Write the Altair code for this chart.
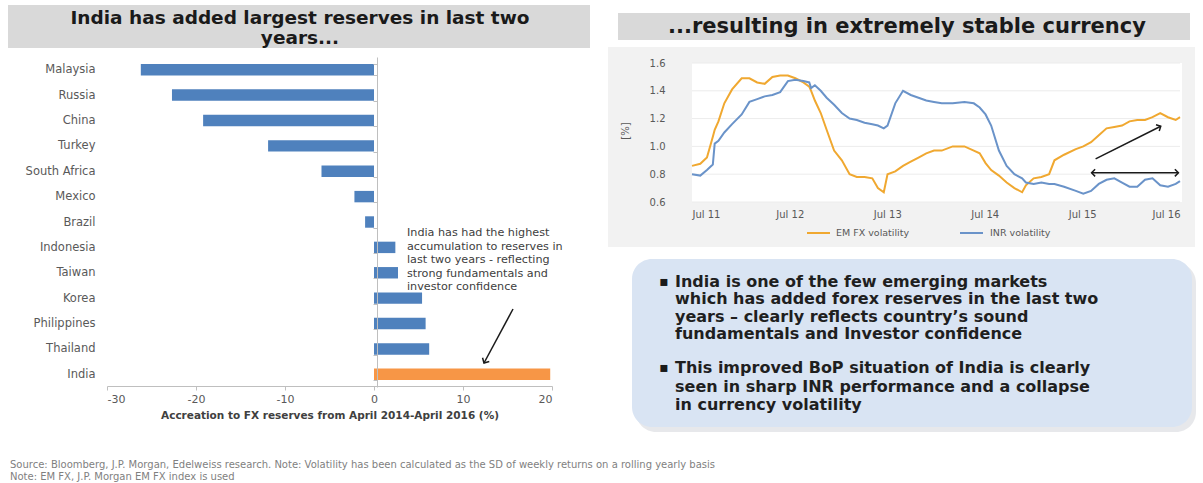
import altair as alt
import pandas as pd

# ---------------- data ----------------
countries = ["Malaysia", "Russia", "China", "Turkey", "South Africa", "Mexico", "Brazil",
             "Indonesia", "Taiwan", "Korea", "Philippines", "Thailand", "India"]
accretion = [-26.2, -22.7, -19.2, -11.9, -5.9, -2.2, -1.0, 2.4, 2.7, 5.4, 5.8, 6.2, 19.8]
bar_group = ["Other"] * 12 + ["India"]
bar_ticks = [-30, -20, -10, 0, 10, 20]

vol_dates = [
    "2011-07-01", "2011-08-01", "2011-08-26", "2011-09-17", "2011-09-24", "2011-10-08",
    "2011-10-30", "2011-11-28", "2012-01-03", "2012-02-01", "2012-03-01", "2012-03-29",
    "2012-04-27", "2012-05-26", "2012-06-24", "2012-07-22", "2012-08-21", "2012-09-12",
    "2012-09-19", "2012-10-03", "2012-10-25", "2012-11-16", "2012-12-14", "2013-01-12",
    "2013-02-10", "2013-03-09", "2013-04-07", "2013-05-06", "2013-05-27", "2013-06-18",
    "2013-07-02", "2013-07-31", "2013-08-29", "2013-09-27", "2013-10-26", "2013-11-24",
    "2013-12-23", "2014-01-21", "2014-03-03", "2014-04-16", "2014-05-21", "2014-06-12",
    "2014-07-04", "2014-07-25", "2014-08-23", "2014-09-21", "2014-10-20", "2014-11-18",
    "2014-12-02", "2014-12-31", "2015-01-29", "2015-02-27", "2015-03-19", "2015-04-24",
    "2015-06-07", "2015-07-05", "2015-08-03", "2015-09-01", "2015-09-30", "2015-10-29",
    "2015-11-27", "2015-12-25", "2016-01-23", "2016-02-21", "2016-03-20", "2016-04-18",
    "2016-05-17", "2016-06-15", "2016-07-01",
]
em_fx_vol = [
    0.86, 0.875, 0.92, 1.07, 1.12, 1.18,
    1.31, 1.41, 1.49, 1.49, 1.46, 1.45,
    1.50, 1.51, 1.51, 1.49, 1.46, 1.43,
    1.40, 1.33, 1.24, 1.12, 0.97, 0.90,
    0.80, 0.78, 0.78, 0.77, 0.70, 0.67,
    0.80, 0.82, 0.86, 0.89, 0.92, 0.95,
    0.97, 0.97, 1.00, 1.00, 0.97, 0.95,
    0.88, 0.83, 0.79, 0.74, 0.70, 0.67,
    0.72, 0.77, 0.78, 0.80, 0.90, 0.94,
    0.98, 1.00, 1.03, 1.08, 1.13, 1.14,
    1.15, 1.18, 1.19, 1.19, 1.21, 1.24,
    1.21, 1.19, 1.21,
]
inr_vol = [
    0.80, 0.79, 0.83, 0.87, 1.02, 1.04,
    1.10, 1.16, 1.23, 1.32, 1.34, 1.36,
    1.37, 1.39, 1.47, 1.48, 1.47, 1.46,
    1.42, 1.44, 1.40, 1.35, 1.30, 1.24,
    1.20, 1.19, 1.17, 1.16, 1.15, 1.13,
    1.15, 1.31, 1.40, 1.37, 1.35, 1.33,
    1.32, 1.31, 1.31, 1.32, 1.31, 1.28,
    1.23, 1.15, 0.97, 0.86, 0.80, 0.77,
    0.74, 0.73, 0.74, 0.73, 0.73, 0.71,
    0.68, 0.66, 0.68, 0.73, 0.76, 0.77,
    0.74, 0.71, 0.71, 0.76, 0.77, 0.72,
    0.71, 0.73, 0.75,
]
series_names = ["EM FX volatility", "INR volatility"]
series_colors = ["#F0A830", "#6A93C9"]
vol_ticks = [0.6, 0.8, 1.0, 1.2, 1.4, 1.6]
tick_years = [2011, 2012, 2013, 2014, 2015, 2016]

# arrows on the volatility chart (data coordinates)
diag_from = ("2015-08-20", 0.91)
diag_to = ("2016-04-20", 1.145)
flat_from = ("2015-08-05", 0.81)
flat_to = ("2016-06-25", 0.81)

left_title = ["India has added largest reserves in last two", "years..."]
right_title = "...resulting in extremely stable currency"
bar_note = ["India has had the highest", "accumulation to reserves in",
            "last two years - reflecting", "strong fundamentals and", "investor confidence"]
box_lines_1 = ["India is one of the few emerging markets",
               "which has added forex reserves in the last two",
               "years \u2013 clearly reflects country\u2019s sound",
               "fundamentals and Investor confidence"]
box_lines_2 = ["This improved BoP situation of India is clearly",
               "seen in sharp INR performance and a collapse",
               "in currency volatility"]
footnote = ["Source: Bloomberg, J.P. Morgan, Edelweiss research. Note: Volatility has been calculated as the SD of weekly returns on a rolling yearly basis",
            "Note: EM FX, J.P. Morgan EM FX index is used"]

# ---------------- helpers ----------------
one = pd.DataFrame({"k": [0]})
GRAY = "#595959"
LBL = "DejaVu Sans"


def rect(x1, x2, y1, y2, **kw):
    return alt.Chart(one).mark_rect(**kw).encode(
        x=alt.value(x1), x2=alt.value(x2), y=alt.value(y1), y2=alt.value(y2))


def label(txt, x, y, **kw):
    return alt.Chart(one).mark_text(text=txt, **kw).encode(x=alt.value(x), y=alt.value(y))


def seg(x1, y1, x2, y2, **kw):
    return alt.Chart(one).mark_rule(**kw).encode(
        x=alt.value(x1), y=alt.value(y1), x2=alt.value(x2), y2=alt.value(y2))


ARROW = "M -1 -1 L 0 0 L -1 1"
HYPHEN_LABEL = "datum.value < 0 ? '-' + abs(datum.value) : '' + datum.value"

layers = []

# ---------------- left panel ----------------
layers.append(rect(8, 590, 5, 48, color="#d9d9d9"))
layers.append(label(left_title, 300, 18, font="DejaVu Sans", fontWeight="bold", fontSize=18.5,
                    lineHeight=20, color="#1a1a1a", baseline="middle"))

bar_df = pd.DataFrame({"country": countries, "value": accretion, "group": bar_group})
x_bar = alt.Scale(domain=[-30, 20], range=[107, 552], nice=False, zero=False)
y_bar = alt.Scale(domain=countries, range=[57, 387], paddingInner=0.55, paddingOuter=0.275)

bars = alt.Chart(bar_df).mark_bar().encode(
    x=alt.X("value:Q", scale=x_bar,
            axis=alt.Axis(orient="bottom", offset=-97, values=bar_ticks, grid=False,
                          labelExpr=HYPHEN_LABEL,
                          domainColor="#bfbfbf", tickColor="#bfbfbf", tickSize=4,
                          labelFont=LBL, labelFontSize=11, labelColor=GRAY, labelPadding=3,
                          title="Accreation to FX reserves from April 2014-April 2016 (%)",
                          titleFont=LBL, titleFontSize=10.5, titleFontWeight="bold",
                          titleColor="#404040", titlePadding=6)),
    y=alt.Y("country:N", scale=y_bar, sort=countries,
            axis=alt.Axis(orient="left", offset=-377, title=None, grid=False,
                          domainColor="#bfbfbf", tickColor="#bfbfbf", tickSize=4,
                          tickBand="extent", labelPadding=278, labelFont=LBL,
                          labelFontSize=11.5, labelColor=GRAY, zindex=1)),
    color=alt.Color("group:N", scale=alt.Scale(domain=["Other", "India"],
                                               range=["#4F81BD", "#F79646"]), legend=None),
)
layers.append(bars)

layers.append(label(bar_note, 407, 233, font=LBL, fontSize=11.2, lineHeight=13.5,
                    color="#404040", align="left", baseline="middle"))
layers.append(seg(513, 309, 484, 363, color="#1a1a1a", strokeWidth=1.5))
layers.append(alt.Chart(one).mark_point(shape=ARROW, filled=False, color="#1a1a1a",
                                        strokeWidth=1.5, size=60, angle=119.6, opacity=1)
              .encode(x=alt.value(484), y=alt.value(363)))

# ---------------- right panel ----------------
layers.append(rect(618, 1190, 13, 40, color="#d9d9d9"))
layers.append(label(right_title, 907, 27, font="DejaVu Sans", fontWeight="bold", fontSize=21,
                    color="#1a1a1a", baseline="middle"))
layers.append(rect(608, 1195, 47, 247, color="#f2f2f2"))
layers.append(rect(692, 1182, 63, 202, color="#ffffff"))

x_line = alt.Scale(domain=[alt.DateTime(year=2011, month=7, date=1),
                           alt.DateTime(year=2016, month=7, date=1)], range=[692, 1180])
y_line = alt.Scale(domain=[0.6, 1.6], range=[202, 63], nice=False, zero=False)

grid_df = pd.DataFrame({"v": vol_ticks})
layers.append(alt.Chart(grid_df).mark_rule(color="#ececec", strokeWidth=1).encode(
    y=alt.Y("v:Q", scale=y_line, axis=None), x=alt.value(692), x2=alt.value(1180)))

n = len(vol_dates)
vol_df = pd.DataFrame({
    "date": pd.to_datetime(vol_dates * 2),
    "value": em_fx_vol + inr_vol,
    "series": [series_names[0]] * n + [series_names[1]] * n,
})
lines = alt.Chart(vol_df).mark_line(strokeWidth=2, interpolate="linear").encode(
    x=alt.X("date:T", scale=x_line,
            axis=alt.Axis(orient="bottom", offset=-281,
                          values=[alt.DateTime(year=y, month=7, date=1) for y in tick_years],
                          format="%b %y", domain=False, ticks=False, grid=False, title=None,
                          labelFont=LBL, labelFontSize=10, labelColor=GRAY, labelPadding=7,
                          zindex=1)),
    y=alt.Y("value:Q", scale=y_line,
            axis=alt.Axis(orient="left", offset=-692, values=vol_ticks, format=".1f",
                          domain=False, ticks=False, grid=False, title=None,
                          labelFont=LBL, labelFontSize=10, labelColor=GRAY, labelPadding=27,
                          zindex=1)),
    color=alt.Color("series:N", scale=alt.Scale(domain=series_names, range=series_colors), legend=None),
    order=alt.Order("date:T"),
)
layers.append(lines)

arrow_df = pd.DataFrame({
    "x0": pd.to_datetime([diag_from[0], flat_from[0]]),
    "x1": pd.to_datetime([diag_to[0], flat_to[0]]),
    "y0": [diag_from[1], flat_from[1]],
    "y1": [diag_to[1], flat_to[1]],
})
layers.append(alt.Chart(arrow_df).mark_rule(color="#1a1a1a", strokeWidth=1.5).encode(
    x=alt.X("x0:T", scale=x_line, axis=None), x2="x1:T",
    y=alt.Y("y0:Q", scale=y_line, axis=None), y2="y1:Q"))

heads_df = pd.DataFrame({
    "x": pd.to_datetime([diag_to[0], flat_to[0], flat_from[0]]),
    "y": [diag_to[1], flat_to[1], flat_from[1]],
    "ang": [333, 0, 180],
})
layers.append(alt.Chart(heads_df).mark_point(shape=ARROW, filled=False, color="#1a1a1a",
                                             strokeWidth=1.5, size=50, opacity=1).encode(
    x=alt.X("x:T", scale=x_line, axis=None),
    y=alt.Y("y:Q", scale=y_line, axis=None),
    angle=alt.Angle("ang:Q", scale=None)))

# legend
layers.append(seg(807, 233, 830, 233, color=series_colors[0], strokeWidth=2))
layers.append(label(series_names[0], 836, 233, font=LBL, fontSize=9.5, color=GRAY, align="left", baseline="middle"))
layers.append(seg(960, 233, 983, 233, color=series_colors[1], strokeWidth=2))
layers.append(label(series_names[1], 990, 233, font=LBL, fontSize=9.5, color=GRAY, align="left", baseline="middle"))
layers.append(label("[%]", 626, 131, font=LBL, fontSize=10, color=GRAY, angle=270, baseline="middle"))

# text box
layers.append(rect(636, 1196, 263, 432, color="#c9ccd2", opacity=0.45, cornerRadius=20))
layers.append(rect(632, 1192, 259, 427, color="#d9e4f3", cornerRadius=20))
layers.append(label("\u25aa", 664, 282, font="DejaVu Sans", fontSize=14, color="#1a1a1a", baseline="middle"))
layers.append(label(box_lines_1, 675, 282, font="DejaVu Sans", fontWeight="bold", fontSize=16,
                    lineHeight=17.4, color="#1f1f1f", align="left", baseline="middle"))
layers.append(label("\u25aa", 664, 368, font="DejaVu Sans", fontSize=14, color="#1a1a1a", baseline="middle"))
layers.append(label(box_lines_2, 675, 368, font="DejaVu Sans", fontWeight="bold", fontSize=16,
                    lineHeight=18.5, color="#1f1f1f", align="left", baseline="middle"))

# footnote
layers.append(label(footnote, 10, 465, font="DejaVu Sans", fontSize=10, lineHeight=11.5,
                    color="#7f7f7f", align="left", baseline="middle"))

chart = alt.layer(*layers).resolve_scale(
    x="independent", y="independent", color="independent"
).resolve_axis(x="independent", y="independent").properties(
    width=1203, height=483, autosize=alt.AutoSizeParams(type="none"), padding=0,
    background="#ffffff",
).configure_view(strokeWidth=0)

chart.save("out.html", embed_options={"renderer": "svg", "actions": False})
